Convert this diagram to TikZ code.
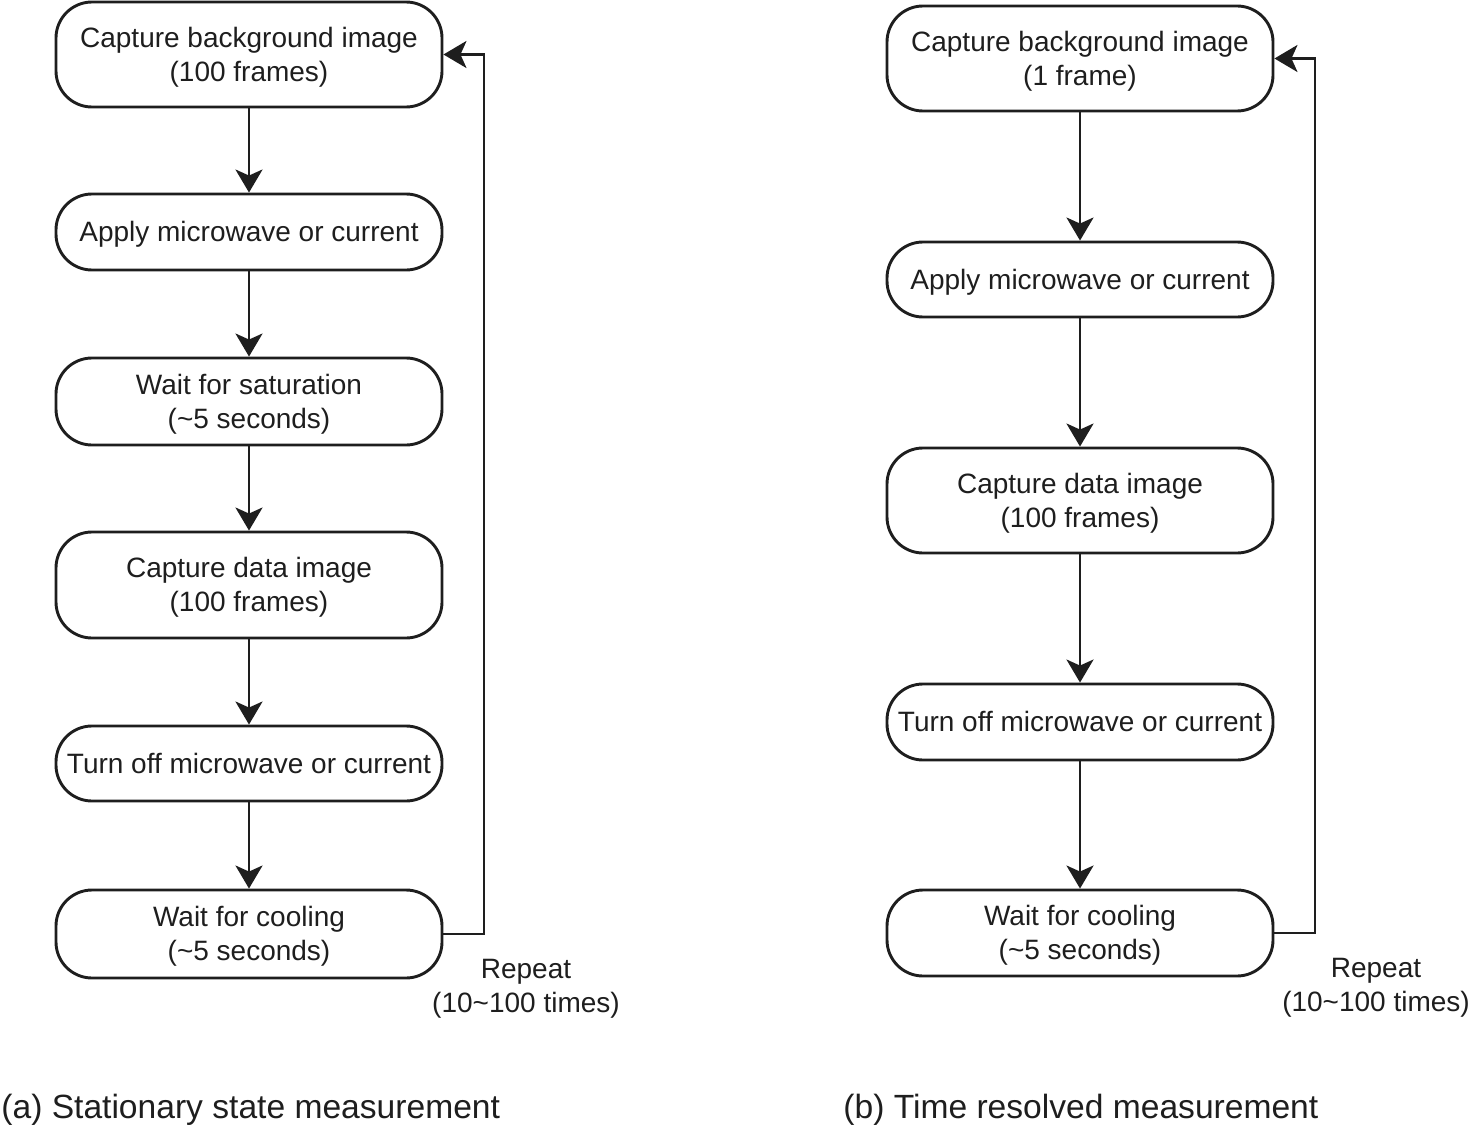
\documentclass[tikz,border=0pt]{standalone}
\usepackage{fontspec}
\setmainfont{Liberation Sans}
\usetikzlibrary{arrows.meta}
\definecolor{ink}{HTML}{1E1E1E}
\newcommand\boxtxt[1]{\raisebox{-1.4pt}[\height][\depth]{\begin{tabular}{@{}c@{}}#1\end{tabular}}}
\begin{document}
\begin{tikzpicture}[x=0.5pt,y=-0.5pt,
  box/.style={draw=ink, line width=1.45pt, rounded corners=18pt, minimum width=193pt, inner sep=0pt, font=\fontsize{14}{17}\selectfont, text=ink},
  arr/.style={draw=ink, line width=1.45pt, -{Stealth[length=11.5pt,width=13.5pt,inset=3pt]}},
  lbl/.style={font=\fontsize{14}{17}\selectfont, align=center, text=ink, inner sep=0pt},
  captxt/.style={font=\fontsize{16.8}{20}\selectfont, text=ink, inner sep=0pt, anchor=base west}]
\useasboundingbox (0,0) rectangle (1471,1129);
% left panel
\node[box, minimum height=52.5pt] (a1) at (249,54.5) {\boxtxt{Capture background image\\(100 frames)}};
\node[box, minimum height=38pt] (a2) at (249,232) {\boxtxt{Apply microwave or current}};
\node[box, minimum height=43.5pt] (a3) at (249,401.5) {\boxtxt{Wait for saturation\\(\textasciitilde5 seconds)}};
\node[box, minimum height=53pt] (a4) at (249,585) {\boxtxt{Capture data image\\(100 frames)}};
\node[box, minimum height=37.5pt] (a5) at (249,763.5) {\boxtxt{Turn off microwave or current}};
\node[box, minimum height=44pt] (a6) at (249,934) {\boxtxt{Wait for cooling\\(\textasciitilde5 seconds)}};
\draw[arr] (a1) -- (a2);
\draw[arr] (a2) -- (a3);
\draw[arr] (a3) -- (a4);
\draw[arr] (a4) -- (a5);
\draw[arr] (a5) -- (a6);
\coordinate (ac) at (484,500);
\draw[arr] (a6.east) -- (a6.east -| ac) -- (ac |- a1.east) -- (a1.east);
\node[lbl] (ra) at (526,988.5) {Repeat\\(10\textasciitilde100 times)};
\node[captxt] (capa) at (1,1118) {(a) Stationary state measurement};
% right panel
\node[box, minimum height=52.5pt] (b1) at (1080,58.5) {\boxtxt{Capture background image\\(1 frame)}};
\node[box, minimum height=37.5pt] (b2) at (1080,279.5) {\boxtxt{Apply microwave or current}};
\node[box, minimum height=52.5pt] (b3) at (1080,500.5) {\boxtxt{Capture data image\\(100 frames)}};
\node[box, minimum height=38pt] (b4) at (1080,722) {\boxtxt{Turn off microwave or current}};
\node[box, minimum height=43pt] (b5) at (1080,933) {\boxtxt{Wait for cooling\\(\textasciitilde5 seconds)}};
\draw[arr] (b1) -- (b2);
\draw[arr] (b2) -- (b3);
\draw[arr] (b3) -- (b4);
\draw[arr] (b4) -- (b5);
\coordinate (bc) at (1315,500);
\draw[arr] (b5.east) -- (b5.east -| bc) -- (bc |- b1.east) -- (b1.east);
\node[lbl] (rb) at (1376,987.5) {Repeat\\(10\textasciitilde100 times)};
\node[captxt] (capb) at (843,1118) {(b) Time resolved measurement};
\end{tikzpicture}
\end{document}
